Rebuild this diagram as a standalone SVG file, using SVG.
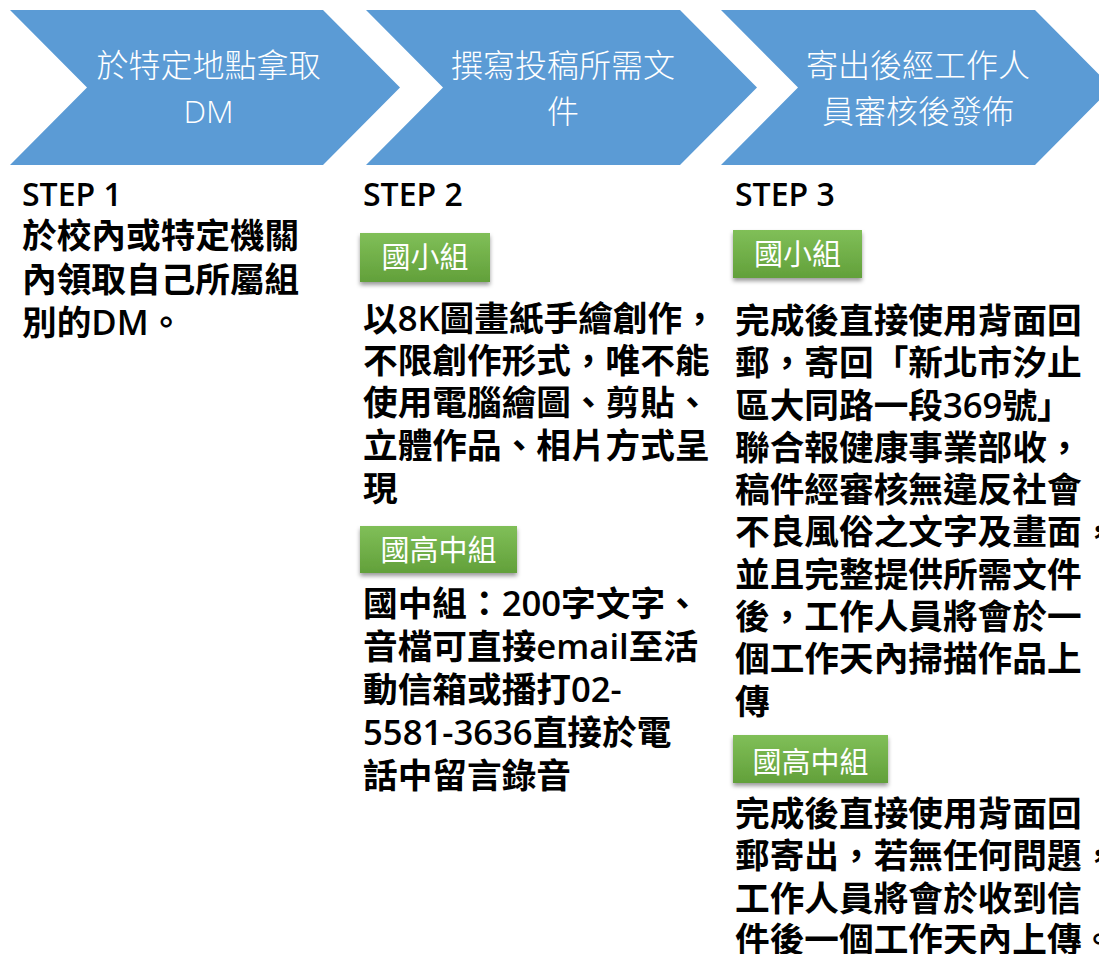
<svg xmlns="http://www.w3.org/2000/svg" width="1099" height="954" viewBox="0 0 1099 954" xml:lang="zh-Hant-TW" lang="zh-Hant-TW">
<defs>
<linearGradient id="g" x1="0" y1="0" x2="0" y2="1">
<stop offset="0" stop-color="#80bf58"/>
<stop offset="1" stop-color="#62a03a"/>
</linearGradient>
<filter id="sh" x="-10%" y="-20%" width="120%" height="160%">
<feDropShadow dx="0" dy="3" stdDeviation="2" flood-color="#000" flood-opacity="0.4"/>
</filter>
</defs>
<style>
.chev{fill:#5B9BD5}
.ct{font-family:"Open Sans","Noto Sans CJK TC",sans-serif;font-weight:300;font-size:32px;fill:#fff;text-anchor:middle}
.step{font-family:"Open Sans","Noto Sans CJK TC",sans-serif;font-weight:600;font-size:32px;fill:#000}
.b{font-family:"Open Sans","Noto Sans CJK TC",sans-serif;font-weight:600;font-size:34.67px;fill:#000}
.badge{fill:url(#g);filter:url(#sh)}
.bt{font-family:"Noto Sans CJK TC",sans-serif;font-weight:400;font-size:29px;fill:#fff;text-anchor:middle}
</style>
<rect width="1099" height="954" fill="#fff"/>
<g id="chevron1">
<polygon class="chev" points="10,10 323,10 400,87.5 323,165 10,165 87,87.5"/>
<text class="ct" x="208.5" y="77">於特定地點拿取</text>
<text class="ct" x="208.5" y="123">DM</text>
</g>
<g id="chevron2">
<polygon class="chev" points="366,10 680,10 757,87.5 680,165 366,165 443,87.5"/>
<text class="ct" x="563" y="77">撰寫投稿所需文</text>
<text class="ct" x="563" y="123">件</text>
</g>
<g id="chevron3">
<polygon class="chev" points="721,10 1035,10 1112,87.5 1035,165 721,165 798,87.5"/>
<text class="ct" x="918" y="77">寄出後經工作人</text>
<text class="ct" x="918" y="123">員審核後發佈</text>
</g>
<g id="step1">
<text class="step" x="22" y="206">STEP 1</text>
<text class="b" x="22" y="248">於校內或特定機關</text>
<text class="b" x="22" y="292">內領取自己所屬組</text>
<text class="b" x="22" y="335">別的DM。</text>
</g>
<g id="step2">
<text class="step" x="363" y="206">STEP 2</text>
</g>
<g id="badge-s2-elem">
<rect class="badge" x="360" y="233" width="130" height="49"/>
<text class="bt" x="425" y="268">國小組</text>
</g>
<g id="text-s2-elem">
<text class="b" x="363" y="331">以8K圖畫紙手繪創作，</text>
<text class="b" x="363" y="373">不限創作形式，唯不能</text>
<text class="b" x="363" y="415">使用電腦繪圖、剪貼、</text>
<text class="b" x="363" y="458">立體作品、相片方式呈</text>
<text class="b" x="363" y="501">現</text>
</g>
<g id="badge-s2-high">
<rect class="badge" x="360" y="526" width="157" height="47"/>
<text class="bt" x="438.5" y="561">國高中組</text>
</g>
<g id="text-s2-high">
<text class="b" x="363" y="616">國中組：200字文字、</text>
<text class="b" x="363" y="659">音檔可直接email至活</text>
<text class="b" x="363" y="702">動信箱或播打02-</text>
<text class="b" x="363" y="745">5581-3636直接於電</text>
<text class="b" x="363" y="788">話中留言錄音</text>
</g>
<g id="step3">
<text class="step" x="735" y="206">STEP 3</text>
</g>
<g id="badge-s3-elem">
<rect class="badge" x="733" y="230" width="129" height="48"/>
<text class="bt" x="797.5" y="265">國小組</text>
</g>
<g id="text-s3-elem">
<text class="b" x="735" y="333">完成後直接使用背面回</text>
<text class="b" x="735" y="375">郵，寄回「新北市汐止</text>
<text class="b" x="735" y="418">區大同路一段369號」</text>
<text class="b" x="735" y="460">聯合報健康事業部收，</text>
<text class="b" x="735" y="502">稿件經審核無違反社會</text>
<text class="b" x="735" y="544">不良風俗之文字及畫面，</text>
<text class="b" x="735" y="587">並且完整提供所需文件</text>
<text class="b" x="735" y="629">後，工作人員將會於一</text>
<text class="b" x="735" y="671">個工作天內掃描作品上</text>
<text class="b" x="735" y="714">傳</text>
</g>
<g id="badge-s3-high">
<rect class="badge" x="733" y="735" width="155" height="48"/>
<text class="bt" x="810.5" y="773">國高中組</text>
</g>
<g id="text-s3-high">
<text class="b" x="735" y="826">完成後直接使用背面回</text>
<text class="b" x="735" y="868">郵寄出，若無任何問題，</text>
<text class="b" x="735" y="911">工作人員將會於收到信</text>
<text class="b" x="735" y="952">件後一個工作天內上傳。</text>
</g>
</svg>
